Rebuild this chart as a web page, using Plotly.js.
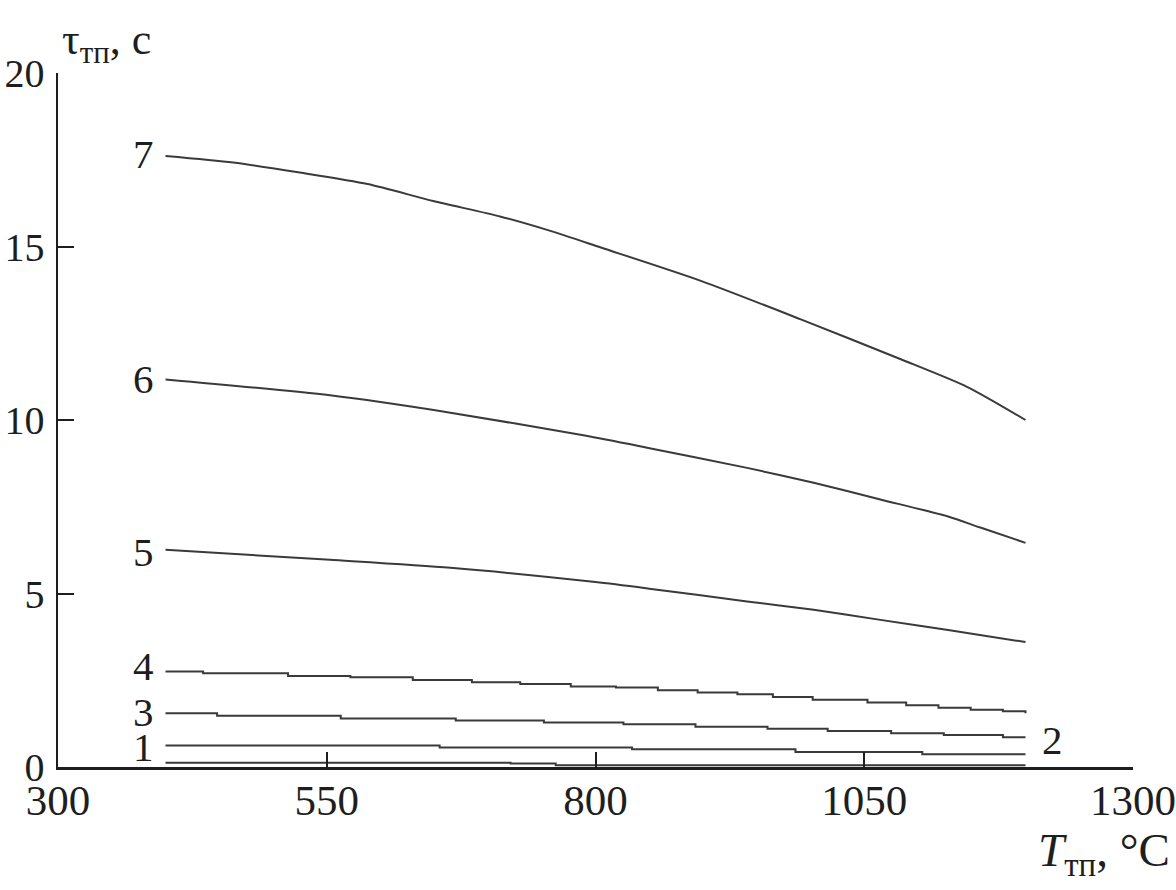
<!DOCTYPE html>
<html>
<head>
<meta charset="utf-8">
<script src="https://cdn.plot.ly/plotly-3.0.1.min.js"></script>
<style>html,body{margin:0;padding:0;background:#fff;}#chart{width:1176px;height:890px;}</style>
</head>
<body>
<div id="chart"></div>
<script>
// Temperature T (°C) and duration tau (s)
const t7 = [400, 463, 525, 588, 649, 712, 758, 805, 898, 991, 1084, 1146, 1200];
const v7 = [17.61, 17.42, 17.13, 16.80, 16.31, 15.86, 15.45, 14.97, 14.01, 12.90, 11.75, 10.95, 10.00];

const t6 = [400, 553, 665, 790, 848, 941, 1003, 1065, 1128, 1158, 1200];
const v6 = [11.17, 10.71, 10.21, 9.55, 9.20, 8.62, 8.19, 7.71, 7.22, 6.90, 6.46];

const t5 = [400, 553, 665, 800, 850, 941, 1003, 1065, 1128, 1200];
const v5 = [6.26, 5.97, 5.74, 5.33, 5.14, 4.77, 4.53, 4.24, 3.95, 3.60];

const t4 = [400, 435, 514, 572, 630, 685, 730, 777, 819, 858, 895, 932, 965, 1002, 1053, 1089, 1119, 1149, 1179, 1200];
const v4 = [2.75, 2.70, 2.62, 2.59, 2.51, 2.44, 2.39, 2.32, 2.29, 2.21, 2.15, 2.10, 2.02, 1.94, 1.86, 1.78, 1.71, 1.65, 1.61, 1.55];

const t3 = [400, 448, 563, 670, 752, 826, 893, 960, 1016, 1075, 1124, 1179, 1200];
const v3 = [1.55, 1.48, 1.40, 1.34, 1.28, 1.23, 1.16, 1.10, 1.04, 0.97, 0.92, 0.86, 0.86];

const t1 = [400, 655, 834, 986, 1104, 1200];
const v1 = [0.62, 0.56, 0.51, 0.43, 0.37, 0.37];

const t2 = [400, 721, 763, 1200];
const v2 = [0.12, 0.10, 0.05, 0.05];

const xTicks = [300, 550, 800, 1050, 1300];
const yTicks = [0, 5, 10, 15, 20];

const FONT = "'Liberation Serif', 'Times New Roman', serif";
const INK = '#1e1e1e';
const LABEL_SIZE = 41;

const series = [
  {x: t7, y: v7, name: '7', shape: 'spline'},
  {x: t6, y: v6, name: '6', shape: 'spline'},
  {x: t5, y: v5, name: '5', shape: 'spline'},
  {x: t4, y: v4, name: '4', shape: 'hv'},
  {x: t3, y: v3, name: '3', shape: 'hv'},
  {x: t1, y: v1, name: '1', shape: 'hv'},
  {x: t2, y: v2, name: '2', shape: 'hv'}
];

const traces = series.map(s => ({
  x: s.x, y: s.y, name: s.name, type: 'scatter', mode: 'lines',
  line: {color: '#3a3a3a', width: 2, shape: s.shape, smoothing: 0.7}, hoverinfo: 'skip'
}));

// curve number labels on the left, anchored to the first point of each curve
const leftLabels = [
  {s: series[0], dy: 2},
  {s: series[1], dy: 0},
  {s: series[2], dy: -2},
  {s: series[3], dy: 6},
  {s: series[4], dy: 1},
  {s: series[5], dy: -2}
];
const annotations = leftLabels.map(o => ({
  x: o.s.x[0], y: o.s.y[0], xref: 'x', yref: 'y', text: o.s.name,
  showarrow: false, xanchor: 'right', yanchor: 'middle', xshift: -10, yshift: o.dy,
  font: {family: FONT, size: LABEL_SIZE, color: INK}
}));
annotations.push({
  x: t3[t3.length - 1], y: v3[v3.length - 1], xref: 'x', yref: 'y', text: '2',
  showarrow: false, xanchor: 'left', yanchor: 'middle', xshift: 14, yshift: -3,
  font: {family: FONT, size: LABEL_SIZE, color: INK}
});
annotations.push({
  x: 60, y: 42, xref: 'paper', yref: 'paper', text: 'τ<sub>тп</sub>, с',
  showarrow: false, xanchor: 'left', yanchor: 'middle',
  font: {family: FONT, size: 44, color: INK}
});
annotations.push({
  x: 1172, y: 853, xref: 'paper', yref: 'paper', text: '<i>T</i><sub>тп</sub>, °C',
  showarrow: false, xanchor: 'right', yanchor: 'middle',
  font: {family: FONT, size: 47, color: INK}
});

// convert the two title annotations from pixels to paper coords
const L = 58, R = 43, T = 73, B = 123, W = 1176, H = 890;
annotations.forEach(a => {
  if (a.xref === 'paper') {
    a.x = (a.x - L) / (W - L - R);
    a.y = 1 - (a.y - T) / (H - T - B);
  }
});

const layout = {
  width: W, height: H,
  margin: {l: L, r: R, t: T, b: B},
  paper_bgcolor: '#fff', plot_bgcolor: '#fff',
  showlegend: false,
  font: {family: FONT, color: INK},
  xaxis: {
    range: [300, 1300], tickvals: xTicks, ticktext: xTicks.map(String),
    ticks: 'inside', ticklen: 15, tickwidth: 2, tickcolor: INK,
    showline: true, linewidth: 2.5, linecolor: INK,
    showgrid: false, zeroline: false, ticklabelstandoff: -6,
    ticklabeloverflow: 'allow',
    tickfont: {family: FONT, size: 43, color: INK}
  },
  yaxis: {
    range: [0, 20], tickvals: yTicks, ticktext: yTicks.map(String),
    ticks: 'inside', ticklen: 16, tickwidth: 2, tickcolor: INK,
    showline: true, linewidth: 2.5, linecolor: INK,
    showgrid: false, zeroline: false, ticklabelstandoff: 3,
    ticklabeloverflow: 'allow',
    tickfont: {family: FONT, size: 40, color: INK}
  },
  annotations: annotations
};

Plotly.newPlot('chart', traces, layout, {staticPlot: true, displayModeBar: false});
</script>
</body>
</html>
